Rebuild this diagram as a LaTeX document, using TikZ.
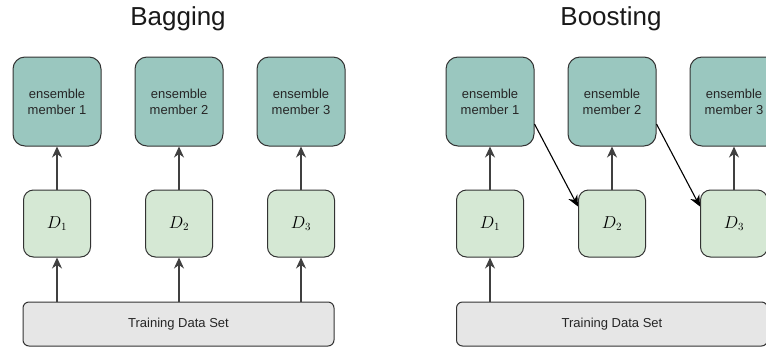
\documentclass[tikz,border=0pt]{standalone}
\usepackage{fontspec}
\setmainfont{Liberation Sans}
\usetikzlibrary{arrows.meta,calc}
\definecolor{membfill}{HTML}{9AC7BF}
\definecolor{datafill}{HTML}{D5E8D4}
\definecolor{trainfill}{HTML}{E6E6E6}
\definecolor{edgeline}{HTML}{333333}
\definecolor{conn}{HTML}{404040}
\tikzset{
  member/.style={draw=edgeline, line width=1pt, fill=membfill, rounded corners=12pt,
    minimum width=88pt, minimum height=89pt, inner sep=0pt, align=center,
    font=\fontsize{13}{16}\selectfont, text=black!85},
  subset/.style={draw=edgeline, line width=1pt, fill=datafill, rounded corners=10pt,
    minimum width=67pt, minimum height=67pt, inner sep=0pt,
    font=\fontsize{16}{18}\selectfont},
  trainset/.style={draw=edgeline, line width=1pt, fill=trainfill, rounded corners=6pt,
    minimum width=311pt, minimum height=44pt, inner sep=0pt,
    font=\fontsize{13}{16}\selectfont, text=black!85},
  heading/.style={font=\fontsize{26}{30}\selectfont, text=black!90},
  tip/.style={-{Stealth[length=11pt,width=10pt,inset=3.5pt]}},
  feed/.style={draw=conn, line width=1.2pt, tip},
  pass/.style={draw=black, line width=1.1pt, tip}
}
\begin{document}
\begin{tikzpicture}[x=1pt,y=-1pt]
\useasboundingbox (0,0) rectangle (766,349);
\clip (0,0) rectangle (766,349);

% Bagging
\node[heading] (bagtitle) at (178,19) {Bagging};
\node[member] (be1) at (57,101.5) {ensemble\\member 1};
\node[member] (be2) at (179,101.5) {ensemble\\member 2};
\node[member] (be3) at (301,101.5) {ensemble\\member 3};
\node[subset] (bd1) at (57,223.5) {$D_1$};
\node[subset] (bd2) at (179,223.5) {$D_2$};
\node[subset] (bd3) at (301,223.5) {$D_3$};
\node[trainset] (bt) at (178.5,324) {Training Data Set};
\foreach \i in {1,2,3}{
  \draw[feed] (bt.north -| bd\i) -- (bd\i.south);
  \draw[feed] (bd\i.north) -- (be\i.south);
}

% Boosting
\node[heading] (boosttitle) at (611,19) {Boosting};
\node[member] (oe1) at (490,101.5) {ensemble\\member 1};
\node[member] (oe2) at (612,101.5) {ensemble\\member 2};
\node[member] (oe3) at (734,101.5) {ensemble\\member 3};
\node[subset] (od1) at (490,223.5) {$D_1$};
\node[subset] (od2) at (612,223.5) {$D_2$};
\node[subset] (od3) at (734,223.5) {$D_3$};
\node[trainset] (ot) at (612,324) {Training Data Set};
\draw[feed] (ot.north -| od1) -- (od1.south);
\foreach \i in {1,2,3}{
  \draw[feed] (od\i.north) -- (oe\i.south);
}
\draw[pass] ($(oe1.north east)!0.75!(oe1.south east)$) -- ($(od2.north west)!0.25!(od2.south west)$);
\draw[pass] ($(oe2.north east)!0.75!(oe2.south east)$) -- ($(od3.north west)!0.25!(od3.south west)$);
\end{tikzpicture}
\end{document}
